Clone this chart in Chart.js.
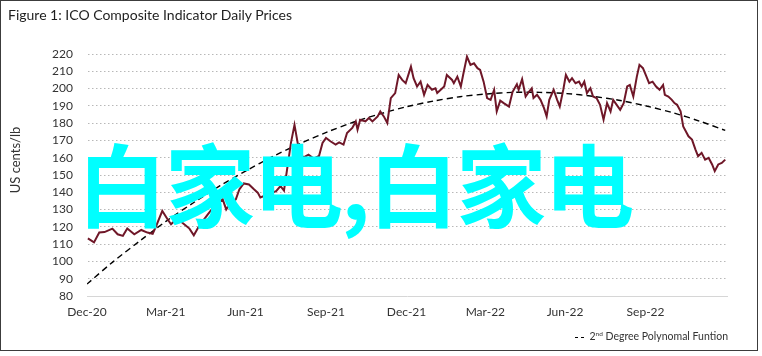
<!DOCTYPE html>
<html>
<head>
<meta charset="utf-8">
<script src="https://cdn.jsdelivr.net/npm/chart.js@4/dist/chart.umd.min.js"></script>
<style>
  html, body { margin: 0; padding: 0; background: #fff; }
  #wrap { position: relative; width: 762px; height: 356px; overflow: hidden; background: #fff; }
  #frame { position: absolute; left: 0; top: 0; width: 756px; height: 349px; border: 1px solid #3c3c3c; }
  #title { position: absolute; left: 8px; top: 6px; font: 14px Lato, sans-serif; color: #1e1e1e; white-space: nowrap; }
  #ytitle { position: absolute; left: 14.5px; top: 160px; width: 0; height: 0; }
  #ytitle span { position: absolute; left: 0; top: 0; transform: translate(-50%, -50%) rotate(-90deg); font: 13px Lato, sans-serif; color: #333; white-space: nowrap; }
  #legend { position: absolute; right: 34px; top: 330px; font: 10.5px Lato, sans-serif; color: #333; white-space: nowrap; }
  #legend .mk { display: inline-block; width: 3px; height: 1.5px; background: #000; vertical-align: middle; margin-right: 3px; }
  #legend .mk.last { margin-right: 5px; }
  #legend sup { font-size: 6.5px; vertical-align: 4px; line-height: 0; }
  #wm { position: absolute; left: 77px; top: 136px; font: 700 90px "Noto Sans CJK SC", sans-serif; line-height: 90px; letter-spacing: -2px; color: #00ffff; white-space: nowrap; z-index: 5; }
  canvas { position: absolute; left: 0; top: 0; }
</style>
</head>
<body>
<div id="wrap">
  <canvas id="c" width="762" height="356"></canvas>
  <div id="frame"></div>
  <div id="title">Figure 1: ICO Composite Indicator Daily Prices</div>
  <div id="ytitle"><span>US cents/lb</span></div>
  <div id="legend"><span class="mk"></span><span class="mk last"></span>2<sup>nd</sup> Degree Polynomal Funtion</div>
  <div id="wm">白家电,白家电</div>
</div>
<script>
// Days since 1 Dec 2020
const tickDays = [0, 90, 181, 273, 365, 455, 546, 638];
const tickLabels = ['Dec-20', 'Mar-21', 'Jun-21', 'Sep-21', 'Dec-21', 'Mar-22', 'Jun-22', 'Sep-22'];
const yTicks = [80, 90, 100, 110, 120, 130, 140, 150, 160, 170, 180, 190, 200, 210, 220];

const priceDays = [1, 8, 14, 20, 29, 35, 41, 46, 54, 62, 69, 75, 79, 86, 92, 96, 103, 111, 117, 122, 128, 138, 147, 155, 159, 164, 170, 174, 179, 185, 191, 195, 198, 216, 221, 225, 233, 237, 242, 247, 253, 259, 265, 269, 273, 278, 284, 288, 293, 297, 303, 307, 309, 312, 318, 322, 326, 332, 335, 339, 343, 347, 352, 356, 360, 364, 370, 373, 377, 381, 385, 389, 394, 398, 400, 404, 408, 411, 417, 419, 423, 427, 430, 434, 438, 442, 446, 449, 453, 457, 461, 465, 468, 472, 476, 482, 486, 491, 493, 497, 501, 505, 508, 510, 514, 518, 522, 525, 528, 533, 537, 540, 544, 547, 551, 554, 558, 562, 565, 568, 571, 575, 578, 582, 586, 590, 594, 598, 601, 605, 609, 613, 617, 620, 624, 628, 631, 635, 639, 642, 646, 650, 654, 658, 660, 664, 668, 671, 674, 678, 681, 687, 691, 695, 698, 702, 706, 710, 714, 717, 721, 725, 729];
const priceValues = [113.3, 111, 116.7, 117, 119, 115.7, 114.8, 119, 115.7, 118.2, 116.7, 116, 120.5, 129.2, 124.4, 121.5, 124.8, 121.5, 119, 115.1, 120.5, 127.2, 133, 135.9, 130.1, 134, 135.9, 141.6, 145.1, 144.5, 141.6, 139.8, 137, 140.7, 143.6, 141, 168.7, 179, 164.7, 160, 161.8, 159.5, 161, 168.5, 171.4, 169.5, 167.6, 168.9, 167.6, 174.3, 177.2, 181, 176.2, 182, 181, 183, 181, 183.9, 186.8, 183.9, 180.1, 194.5, 197.4, 207.9, 205, 203.1, 212.7, 206, 201.2, 204, 196.4, 202.1, 199.3, 200.2, 197.4, 199.3, 201.2, 207.9, 205, 203.1, 206.9, 201.2, 208.9, 218.5, 213.7, 214.6, 211.8, 210.8, 204, 194.5, 193.5, 199.3, 186.8, 193, 191.6, 189.6, 198, 202.5, 199.3, 205.4, 195.4, 198.3, 200.2, 194.5, 196.4, 193.5, 188.7, 183.9, 193.5, 199.3, 193.5, 189.6, 199.3, 207.9, 204, 206, 203.1, 204, 201.2, 204, 197.4, 200.2, 195.4, 194.5, 190.6, 182, 191.6, 186.8, 193.5, 190.6, 187.7, 191.6, 201.2, 202.1, 195.4, 206.9, 213.7, 211.8, 206.9, 203.1, 204, 201.2, 199.3, 202.1, 196.4, 195.4, 193.5, 191.6, 190.6, 186.8, 178.1, 172.4, 170.5, 164.7, 160.8, 162.8, 158.9, 159.9, 156.1, 152.2, 156.1, 157, 158.9];

const trendDays = [0, 30, 61, 91, 122, 152, 183, 213, 244, 274, 304, 335, 365, 396, 426, 457, 487, 517, 548, 578, 609, 639, 670, 700, 729];
const trendValues = [86.9, 99.9, 112.1, 123.5, 134.1, 143.8, 152.8, 160.9, 168.3, 174.8, 180.5, 185.4, 189.5, 192.8, 195.3, 196.9, 197.8, 197.8, 197.1, 195.5, 193.1, 189.9, 185.9, 181.1, 175.8];

const seriesLabel = 'ICO Composite Indicator';
const trendLabel = '2nd Degree Polynomal Funtion';

const pricePts = priceDays.map((d, i) => ({ x: d, y: priceValues[i] }));
const trendPts = trendDays.map((d, i) => ({ x: d, y: trendValues[i] }));

const FONT = 'Lato, sans-serif';

new Chart(document.getElementById('c'), {
  type: 'line',
  data: {
    datasets: [
      { label: trendLabel, data: trendPts, borderColor: '#000', borderWidth: 1.4, borderDash: [6, 4], pointRadius: 0, fill: false, tension: 0.3, order: 2 },
      { label: seriesLabel, data: pricePts, borderColor: '#6f1728', borderWidth: 2, pointRadius: 0, fill: false, tension: 0, order: 1 }
    ]
  },
  options: {
    responsive: false,
    animation: false,
    devicePixelRatio: 1,
    layout: { padding: { left: 2, right: 35, top: 54, bottom: 0 } },
    plugins: { legend: { display: false }, tooltip: { enabled: false }, title: { display: false } },
    scales: {
      x: {
        type: 'linear',
        min: 0,
        max: 731,
        afterBuildTicks: (scale) => { scale.ticks = tickDays.map(v => ({ value: v })); },
        afterFit: (scale) => { scale.height = 60; },
        grid: { display: false, drawTicks: false },
        border: { display: true, color: '#d6d6d6', width: 1 },
        ticks: {
          padding: 9,
          color: '#333',
          font: { family: FONT, size: 12 },
          maxRotation: 0,
          autoSkip: false,
          callback: (v) => { const i = tickDays.indexOf(v); return i >= 0 ? tickLabels[i] : ''; }
        }
      },
      y: {
        min: 80,
        max: 220,
        afterBuildTicks: (scale) => { scale.ticks = yTicks.map(v => ({ value: v })); },
        afterFit: (scale) => { scale.width = 85; },
        grid: {
          drawTicks: false,
          color: (ctx) => ctx.tick && ctx.tick.value === 80 ? 'rgba(0,0,0,0)' : '#b8b8b8',
          lineWidth: 1
        },
        border: { display: true, color: 'rgba(0,0,0,0)', dash: [1.5, 2.5] },
        ticks: { padding: 14, color: '#333', font: { family: FONT, size: 12 }, autoSkip: false },
        title: { display: false }
      }
    }
  }
});
</script>
</body>
</html>
